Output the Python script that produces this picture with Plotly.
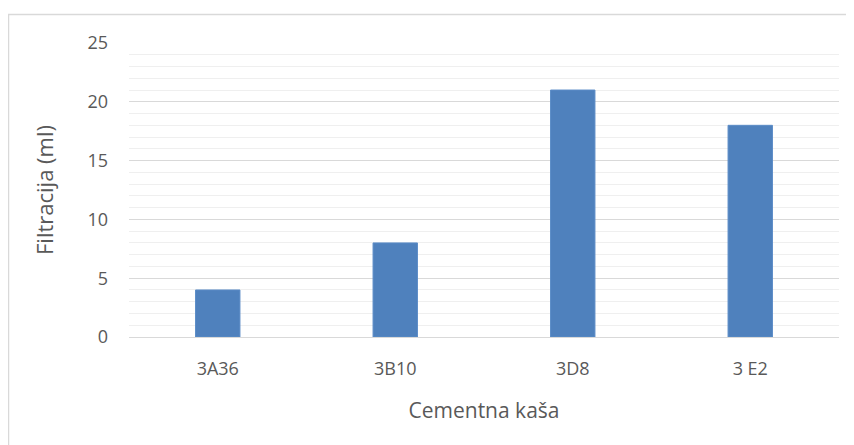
import plotly.graph_objects as go

categories = ["3A36", "3B10", "3D8", "3 E2"]
values = [4, 8, 21, 18]
y_ticks = [0, 5, 10, 15, 20, 25]

# page body has an 8px offset; compensate so the plot lands where the reference has it
OFF = 8
W, H = 854 - OFF, 445 - OFF
L, R, T, B = 129 - OFF, 15, 43 - OFF, 108
pw, ph = W - L - R, H - T - B

def px_x(p):
    return (p - OFF - L) / pw

def px_y(p):
    return (H - B - (p - OFF)) / ph

fig = go.Figure(go.Bar(
    x=categories, y=values,
    marker=dict(color="#4f81bd", line=dict(color="#5b8cc7", width=1)),
))

font_family = "Open Sans, Liberation Sans, sans-serif"
fig.update_layout(
    width=W, height=H,
    margin=dict(l=L, r=R, t=T, b=B),
    paper_bgcolor="white", plot_bgcolor="white",
    bargap=0.75,
    showlegend=False,
    font=dict(family=font_family, color="#595959"),
    xaxis=dict(
        title=dict(text="Cementna kaša", font=dict(size=21, color="#595959"), standoff=24),
        tickfont=dict(size=18, color="#595959"),
        showgrid=False, showline=False, ticks="",
        ticklabelstandoff=19,
    ),
    yaxis=dict(
        title=dict(text="Filtracija (ml)", font=dict(size=22, color="#595959"), standoff=27),
        range=[0, 25], tickvals=y_ticks,
        tickfont=dict(size=18, color="#595959"),
        showgrid=True, gridcolor="#d9d9d9", gridwidth=1,
        minor=dict(dtick=1, showgrid=True, gridcolor="#efefef", gridwidth=1),
        zeroline=True, zerolinecolor="#d9d9d9", zerolinewidth=1,
        showline=False, ticks="",
        ticklabelstandoff=20,
    ),
    shapes=[dict(
        type="rect", xref="paper", yref="paper",
        x0=px_x(8.5), x1=px_x(870), y0=px_y(460), y1=px_y(14.5),
        line=dict(color="#d9d9d9", width=1.5), fillcolor="rgba(0,0,0,0)",
        layer="below",
    )],
)

fig.write_html("out.html")
